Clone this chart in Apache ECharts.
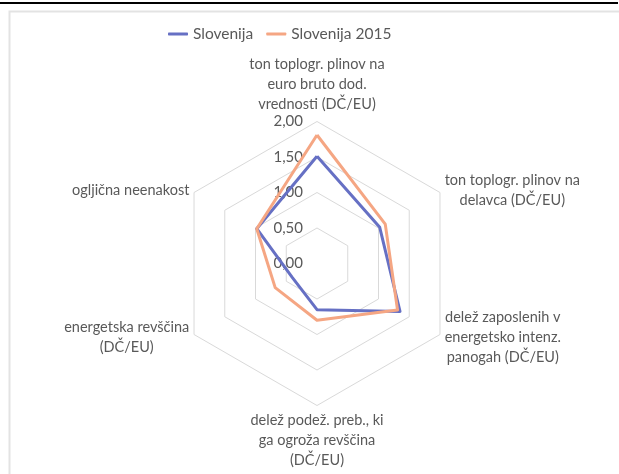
<!DOCTYPE html>
<html>
<head>
<meta charset="utf-8">
<script src="https://cdn.jsdelivr.net/npm/echarts@6/dist/echarts.min.js"></script>
<style>
  html, body { margin: 0; padding: 0; background: #fff; }
  #main { width: 619px; height: 474px; }
</style>
</head>
<body>
<div id="main"></div>
<script>
// kategorije v Excelovem vrstnem redu (v smeri urinega kazalca od vrha)
var categories = [
  "ton toplogr. plinov na\neuro bruto dod.\nvrednosti (DČ/EU)",
  "ton toplogr. plinov na\ndelavca (DČ/EU)",
  "delež zaposlenih v\nenergetsko intenz.\npanogah (DČ/EU)",
  "delež podež. preb., ki\nga ogroža revščina\n(DČ/EU)",
  "energetska revščina\n(DČ/EU)",
  "ogljična neenakost"
];
var seriesNames = ["Slovenija", "Slovenija 2015"];
var slovenija = [1.51, 1.02, 1.35, 0.65, 0.40, 0.98];
var slovenija2015 = [1.81, 1.11, 1.31, 0.80, 0.68, 0.98];
var axisMin = 0;
var axisMax = 2;

var FONT = "Lato";
var FS = 14.5;

// echarts radar teče v nasprotni smeri urinega kazalca -> obrnemo vrstni red
var order = [0, 5, 4, 3, 2, 1];
function reorder(arr) {
  return order.map(function (i) { return arr[i]; });
}

var measure = document.createElement("canvas").getContext("2d");
measure.font = FS + "px " + FONT;
function blockWidth(text) {
  return Math.ceil(Math.max.apply(null, text.split("\n").map(function (s) {
    return measure.measureText(s).width;
  })));
}

var cats = reorder(categories);
var rich = {};
cats.forEach(function (c, i) {
  rich["w" + i] = { width: blockWidth(c), align: "center", fontSize: FS, fontFamily: FONT, color: "#595959", lineHeight: 20 };
});

var indicator = cats.map(function (c, i) {
  var ind = { name: c, min: axisMin, max: axisMax };
  if (i !== 0) ind.axisLabel = { show: false };
  return ind;
});

var chart = echarts.init(document.getElementById("main"));
chart.setOption({
  backgroundColor: "#fff",
  animation: false,
  textStyle: { fontFamily: FONT },
  graphic: [
    { type: "line", shape: { x1: 0, y1: 3, x2: 618, y2: 3 }, style: { stroke: "#000", lineWidth: 2 } },
    { type: "rect", shape: { x: 9.5, y: 11.5, width: 700, height: 600 }, style: { fill: null, stroke: "#e3e3e3", lineWidth: 2 } }
  ],
  legend: {
    top: 21,
    left: 163,
    itemWidth: 20,
    itemHeight: 3,
    itemGap: 13,
    textStyle: { fontSize: 15.5, color: "#595959", fontFamily: FONT },
    data: seriesNames
  },
  radar: {
    center: [317, 263.5],
    radius: 142,
    startAngle: 90,
    shape: "polygon",
    splitNumber: 4,
    nameGap: 5,
    axisName: {
      color: "#595959",
      fontSize: FS,
      fontFamily: FONT,
      lineHeight: 20,
      formatter: function (name) {
        var idx = cats.indexOf(name);
        return name.split("\n").map(function (s) { return "{w" + idx + "|" + s + "}"; }).join("\n");
      },
      rich: rich
    },
    axisLine: { show: false },
    axisTick: { show: false },
    axisLabel: {
      show: true,
      color: "#595959",
      fontSize: 15,
      fontFamily: FONT,
      margin: 14,
      formatter: function (v) { return v.toFixed(2).replace(".", ","); }
    },
    splitLine: { lineStyle: { color: "#d9d9d9", width: 1 } },
    splitArea: { show: false },
    indicator: indicator
  },
  series: [{
    type: "radar",
    symbol: "none",
    data: [
      { name: seriesNames[0], value: reorder(slovenija), lineStyle: { color: "#6670c4", width: 3 }, itemStyle: { color: "#6670c4" } },
      { name: seriesNames[1], value: reorder(slovenija2015), lineStyle: { color: "#f5a683", width: 3 }, itemStyle: { color: "#f5a683" } }
    ]
  }]
});
</script>
</body>
</html>
